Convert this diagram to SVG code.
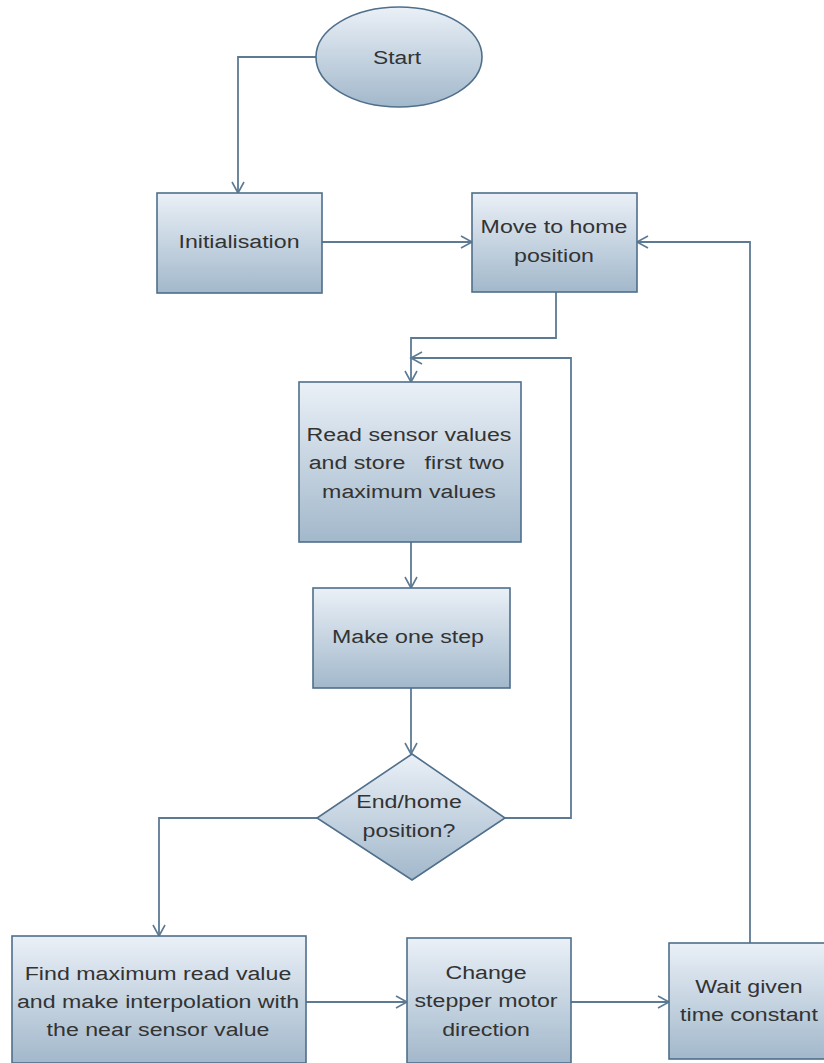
<svg xmlns="http://www.w3.org/2000/svg" width="824" height="1063" viewBox="0 0 824 1063">
<defs>
<linearGradient id="g" x1="0" y1="0" x2="0" y2="1">
<stop offset="0" stop-color="#eaf0f7"/>
<stop offset="1" stop-color="#a2b8cb"/>
</linearGradient>
<marker id="a" markerUnits="userSpaceOnUse" markerWidth="16" markerHeight="16" viewBox="-13 -8 16 16" refX="0" refY="0" orient="auto">
<path d="M-11,-6 L0,0 L-11,6" fill="none" stroke="#5c7a94" stroke-width="1.6"/>
</marker>
</defs>
<style>
.n{fill:url(#g);stroke:#4f6f8b;stroke-width:1.6}
.c{fill:none;stroke:#5c7a94;stroke-width:1.8;marker-end:url(#a)}
.t{font-family:"Liberation Sans",Arial,sans-serif;font-size:19px;fill:#333;text-anchor:middle}
</style>
<rect width="824" height="1063" fill="#fff"/>
<g id="connectors">
<path class="c" d="M316,57 H238 V193"/>
<path class="c" d="M322,242 H472"/>
<path class="c" d="M556,292 V338 H411 V382"/>
<path class="c" d="M411,542 V588"/>
<path class="c" d="M411,688 V754"/>
<path class="c" d="M505,818 H571 V358 H411"/>
<path class="c" d="M317,818 H159 V936"/>
<path class="c" d="M306,1002 H407"/>
<path class="c" d="M571,1002 H669"/>
<path class="c" d="M750,943 V242 H637"/>
</g>
<g id="start">
<ellipse class="n" cx="399" cy="57" rx="83" ry="50"/>
<text class="t" transform="translate(397 64) scale(1.2 1)">Start</text>
</g>
<g id="init">
<rect class="n" x="157" y="193" width="165" height="100"/>
<text class="t" transform="translate(239 248) scale(1.22 1)">Initialisation</text>
</g>
<g id="move">
<rect class="n" x="472" y="193" width="165" height="99"/>
<text class="t" transform="translate(554 233) scale(1.22 1)"><tspan x="0">Move to home</tspan><tspan x="0" dy="29">position</tspan></text>
</g>
<g id="read">
<rect class="n" x="299" y="382" width="222" height="160"/>
<text class="t" transform="translate(409 441) scale(1.22 1)" xml:space="preserve"><tspan x="0">Read sensor values</tspan><tspan x="-2" dy="28.5">and store   first two</tspan><tspan x="0" dy="28.5">maximum values</tspan></text>
</g>
<g id="step">
<rect class="n" x="313" y="588" width="197" height="100"/>
<text class="t" transform="translate(408 643) scale(1.22 1)">Make one step</text>
</g>
<g id="decision">
<polygon class="n" points="412,754 505,818 412,880 317,818"/>
<text class="t" transform="translate(409 808) scale(1.22 1)"><tspan x="0">End/home</tspan><tspan x="0" dy="29">position?</tspan></text>
</g>
<g id="find">
<rect class="n" x="12" y="936" width="294" height="127"/>
<text class="t" transform="translate(158 980) scale(1.22 1)"><tspan x="0">Find maximum read value</tspan><tspan x="0" dy="28">and make interpolation with</tspan><tspan x="0" dy="28">the near sensor value</tspan></text>
</g>
<g id="change">
<rect class="n" x="407" y="938" width="164" height="125"/>
<text class="t" transform="translate(486 979) scale(1.22 1)"><tspan x="0">Change</tspan><tspan x="0" dy="28.5">stepper motor</tspan><tspan x="0" dy="28.5">direction</tspan></text>
</g>
<g id="wait">
<rect class="n" x="669" y="943" width="165" height="116"/>
<text class="t" transform="translate(749 993) scale(1.22 1)"><tspan x="0">Wait given</tspan><tspan x="0" dy="28">time constant</tspan></text>
</g>
</svg>
